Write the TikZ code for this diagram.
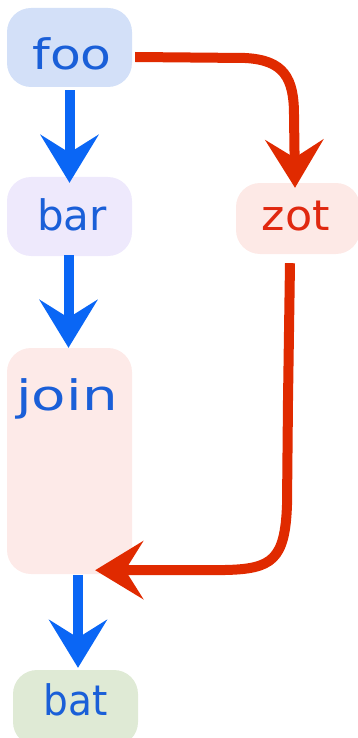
\documentclass[tikz,border=0pt]{standalone}
\usepackage{graphicx}
\usepackage{fontspec}
\setmainfont{DejaVu Sans}
\usetikzlibrary{arrows.meta}
\definecolor{fooFill}{HTML}{D3E0F8}
\definecolor{barFill}{HTML}{EEE9FC}
\definecolor{zotFill}{HTML}{FDE9E6}
\definecolor{joinFill}{HTML}{FDEAE8}
\definecolor{batFill}{HTML}{DFEAD5}
\definecolor{txtBlue}{HTML}{1A5FD8}
\definecolor{txtRed}{HTML}{E02810}
\definecolor{arBlue}{HTML}{0A66F5}
\definecolor{arRed}{HTML}{E02A00}
\begin{document}
\begin{tikzpicture}[x=1pt,y=-1pt,
  box/.style={rounded corners=24pt, minimum width=125pt, inner sep=0pt, draw=none},
  lbl/.style={font=\fontsize{42}{42}\selectfont, anchor=base, inner sep=0pt},
  bluearrow/.style={draw=arBlue, line width=10pt, -{Stealth[length=48pt,width=58pt,inset=18pt]}},
  redarrow/.style={draw=arRed, line width=10pt, -{Stealth[length=48pt,width=58pt,inset=18pt]}}]
\clip (0,0) rectangle (358,738);
% boxes
\node[box, fill=fooFill, minimum height=79pt] (foo) at (69.5,47.5) {};
\node[box, fill=barFill, minimum height=79pt] (bar) at (69.5,216.5) {};
\node[box, fill=zotFill, minimum height=71pt, minimum width=124pt] (zot) at (298,218.5) {};
\node[box, fill=joinFill, minimum height=226pt] (join) at (69.5,461) {};
\node[box, fill=batFill, minimum height=76pt] (bat) at (75.5,708) {};
% labels
\node[lbl, text=txtBlue] (foot) at (72,70) {\scalebox{1.2}[1]{foo}};
\node[lbl, text=txtBlue] (bart) at (72,230) {\scalebox{1.0}[1]{bar}};
\node[lbl, text=txtRed] (zott) at (296,230) {\scalebox{1.06}[1]{zot}};
\node[lbl, text=txtBlue] (joint) at (67,410) {\scalebox{1.34}[1]{join}};
\node[lbl, text=txtBlue] (batt) at (76,715) {\scalebox{0.93}[1]{bat}};
% arrows
\draw[bluearrow] ([yshift=-3pt]foo.south) -- ([yshift=-6pt]bar.north);
\draw[bluearrow] ([xshift=-1pt,yshift=1pt]bar.south) -- ([xshift=-1pt]join.north);
\draw[bluearrow] ([xshift=8.5pt,yshift=-1pt]join.south) -- ([xshift=2.5pt,yshift=2pt]bat.north);
\draw[redarrow] ([xshift=3pt,yshift=-9.5pt]foo.east) -- (245,58)
  .. controls (284,60) and (294,78) .. (294,115) -- ([xshift=-3pt,yshift=-5pt]zot.north);
\draw[redarrow] ([xshift=-8pt,yshift=-9pt]zot.south) -- (288,400) -- (287,505)
  .. controls (285,560) and (272,569) .. (225,570) -- ([xshift=-37pt,yshift=4pt]join.south east);
\end{tikzpicture}
\end{document}
